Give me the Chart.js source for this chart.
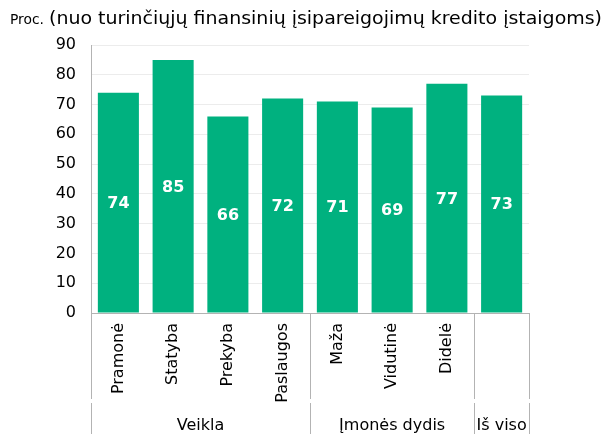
<!DOCTYPE html>
<html>
<head>
<meta charset="utf-8">
<script src="https://cdn.jsdelivr.net/npm/chart.js@4/dist/chart.umd.min.js"></script>
<style>
  html, body { margin: 0; padding: 0; background: #fff; }
  #wrap { width: 606px; height: 434px; }
</style>
</head>
<body>
<div id="wrap"><canvas id="chart" width="606" height="434"></canvas></div>
<script>
const categories = ['Pramonė', 'Statyba', 'Prekyba', 'Paslaugos', 'Maža', 'Vidutinė', 'Didelė', '']
const values = [74, 85, 66, 72, 71, 69, 77, 73]
const groupLabels = ['Veikla', 'Įmonės dydis', 'Iš viso']
const groupSizes = [4, 3, 1]
const yTicks = [0, 10, 20, 30, 40, 50, 60, 70, 80, 90]

const FONT = "'DejaVu Sans', Verdana, sans-serif"
const GREEN = '#00b17f'
const LINE = '#b3b3b3'

// draws text squeezed/stretched to a given width
function fitText(ctx, text, x, y, width) {
  const w = ctx.measureText(text).width
  ctx.save()
  ctx.translate(x, y)
  ctx.scale(width / w, 1)
  ctx.fillText(text, 0, 0)
  ctx.restore()
}

const titlePlugin = {
  id: 'titleText',
  afterDraw(chart) {
    const ctx = chart.ctx
    ctx.save()
    ctx.fillStyle = '#000'
    ctx.textBaseline = 'alphabetic'
    ctx.textAlign = 'left'
    ctx.font = '14px ' + FONT
    fitText(ctx, 'Proc.', 10, 24, 34)
    ctx.font = '17px ' + FONT
    fitText(ctx, '(nuo turinčiųjų finansinių įsipareigojimų kredito įstaigoms)', 49, 24, 553)
    ctx.restore()
  }
}

const barLabels = {
  id: 'barLabels',
  afterDatasetsDraw(chart) {
    const ctx = chart.ctx
    const meta = chart.getDatasetMeta(0)
    const y = chart.scales.y
    ctx.save()
    ctx.fillStyle = '#fff'
    ctx.font = 'bold 16px ' + FONT
    ctx.textAlign = 'center'
    ctx.textBaseline = 'middle'
    meta.data.forEach((bar, i) => {
      ctx.fillText(String(values[i]), bar.x, y.getPixelForValue(values[i] / 2) + 1)
    })
    ctx.restore()
  }
}

const groupAxis = {
  id: 'groupAxis',
  afterDraw(chart) {
    const ctx = chart.ctx
    const x = chart.scales.x
    const area = chart.chartArea
    const bottom = chart.height
    const half = (x.getPixelForValue(1) - x.getPixelForValue(0)) / 2
    ctx.save()
    ctx.strokeStyle = LINE
    ctx.lineWidth = 1
    // horizontal axis line
    ctx.beginPath()
    ctx.moveTo(area.left, Math.round(area.bottom) + 0.5)
    ctx.lineTo(area.right, Math.round(area.bottom) + 0.5)
    ctx.stroke()
    // separators between groups
    let idx = 0
    const edges = [x.getPixelForValue(0) - half]
    groupSizes.forEach(n => { idx += n; edges.push(x.getPixelForValue(idx - 1) + half) })
    edges.forEach(px => {
      const xx = Math.round(px) + 0.5
      ctx.beginPath()
      ctx.moveTo(xx, area.bottom)
      ctx.lineTo(xx, area.bottom + 86)
      ctx.moveTo(xx, area.bottom + 90)
      ctx.lineTo(xx, bottom)
      ctx.stroke()
    })
    ctx.fillStyle = '#000'
    ctx.font = '16px ' + FONT
    ctx.textAlign = 'center'
    ctx.textBaseline = 'middle'
    groupLabels.forEach((g, i) => {
      ctx.fillText(g, (edges[i] + edges[i + 1]) / 2, 426)
    })
    ctx.restore()
  }
}

new Chart(document.getElementById('chart'), {
  type: 'bar',
  data: {
    labels: categories,
    datasets: [{
      data: values,
      backgroundColor: GREEN,
      borderWidth: 0,
      barPercentage: 0.75,
      categoryPercentage: 1
    }]
  },
  options: {
    responsive: false,
    animation: false,
    layout: { padding: { left: 0, right: 77, top: 45, bottom: 0 } },
    plugins: {
      legend: { display: false },
      tooltip: { enabled: false }
    },
    scales: {
      x: {
        grid: { display: false, drawTicks: false },
        border: { display: false },
        ticks: {
          color: '#000',
          font: { family: FONT, size: 16 },
          minRotation: 90,
          maxRotation: 90,
          padding: 10,
          autoSkip: false
        },
        afterFit(scale) { scale.height = 121 }
      },
      y: {
        min: 0,
        max: 90,
        afterBuildTicks(scale) { scale.ticks = yTicks.map(v => ({ value: v })) },
        grid: { color: '#ececec', drawTicks: false },
        border: { display: true, color: LINE },
        ticks: {
          color: '#000',
          font: { family: FONT, size: 16 },
          padding: 15
        },
        afterFit(scale) { scale.width = 91 }
      }
    }
  },
  plugins: [titlePlugin, barLabels, groupAxis]
})
</script>
</body>
</html>
